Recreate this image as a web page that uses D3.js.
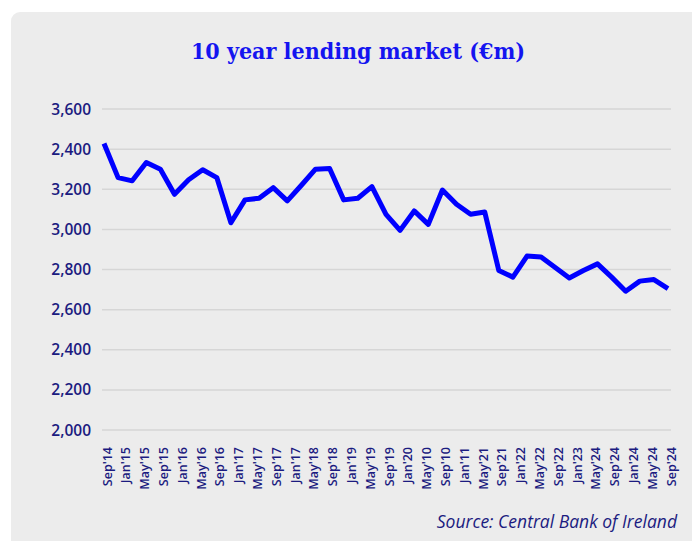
<!DOCTYPE html>
<html>
<head>
<meta charset="utf-8">
<script src="https://cdn.jsdelivr.net/npm/d3@7"></script>
<style>
  body { margin: 0; background: #fff; }
  svg { display: block; }
</style>
</head>
<body>
<div id="chart"></div>
<script>
// quarterly lending values, Sep'14 .. Sep'24
const values = [
  3428, 3258, 3242, 3333, 3300, 3175, 3247, 3297, 3258, 3033,
  3147, 3155, 3208, 3142, 3220, 3300, 3303, 3147, 3155, 3213,
  3075, 2995, 3092, 3025, 3196, 3125, 3075, 3087, 2795, 2762,
  2867, 2862, 2810, 2758, 2795, 2828, 2762, 2692, 2742, 2750,
  2705
];

// category labels as printed on the chart
const xLabels = [
  "Sep'14", "Jan'15", "May'15", "Sep'15", "Jan'16", "May'16", "Sep'16",
  "Jan'17", "May'17", "Sep'17", "Jan'17", "May'18", "Sep'18", "Jan'19",
  "May'19", "Sep'19", "Jan'20", "May'10", "Sep'10", "Jan'11", "May'21",
  "Sep'21", "Jan'22", "May'22", "Sep'22", "Jan'23", "May'24", "Sep'24",
  "Jan'24", "May'24", "Sep'24"
];

const yTicks = [2000, 2200, 2400, 2600, 2800, 3000, 3200, 3400, 3600];
const yTickText = ["2,000", "2,200", "2,400", "2,600", "2,800", "3,000", "3,200", "2,400", "3,600"];

const width = 692, height = 541;
const navy = "#1b1b80";

const svg = d3.select("#chart")
  .append("svg")
  .attr("width", width)
  .attr("height", height);

// grey panel
svg.append("rect")
  .attr("x", 11)
  .attr("y", 12)
  .attr("width", 720)
  .attr("height", 560)
  .attr("rx", 9)
  .attr("fill", "#ececec");

// title
svg.append("text")
  .attr("x", 358)
  .attr("y", 59)
  .attr("text-anchor", "middle")
  .attr("font-family", "DejaVu Serif Condensed, DejaVu Serif")
  .attr("font-stretch", "condensed")
  .attr("font-weight", "bold")
  .attr("font-size", 23)
  .attr("fill", "#1414f0")
  .text("10 year lending market (€m)");

// scales
const x = d3.scaleLinear()
  .domain([0, values.length - 1])
  .range([104, 668]);

const y = d3.scaleLinear()
  .domain([2000, 3600])
  .range([430, 109]);

// gridlines
svg.append("g")
  .selectAll("line")
  .data(yTicks)
  .join("line")
  .attr("x1", 102)
  .attr("x2", 671)
  .attr("y1", d => y(d))
  .attr("y2", d => y(d))
  .attr("stroke", "#d6d6d6")
  .attr("stroke-width", 1.5);

// y labels
svg.append("g")
  .selectAll("text")
  .data(yTicks)
  .join("text")
  .attr("x", 91)
  .attr("y", d => y(d))
  .attr("dy", "0.36em")
  .attr("text-anchor", "end")
  .attr("font-family", "Open Sans")
  .attr("font-weight", 600)
  .attr("font-size", 15.5)
  .attr("fill", navy)
  .text((d, i) => yTickText[i]);

// x labels, spread across the same span as the data
const xl = d3.scalePoint()
  .domain(d3.range(xLabels.length))
  .range([x(0), x(values.length - 1)]);

svg.append("g")
  .selectAll("text")
  .data(xLabels)
  .join("text")
  .attr("transform", (d, i) => `translate(${xl(i) + 3},447)rotate(-90)`)
  .attr("dy", "0.36em")
  .attr("text-anchor", "end")
  .attr("font-family", "Open Sans")
  .attr("font-weight", 600)
  .attr("font-size", 12.5)
  .attr("fill", navy)
  .text(d => d);

// line
const line = d3.line()
  .x((d, i) => x(i))
  .y(d => y(d));

svg.append("path")
  .datum(values)
  .attr("fill", "none")
  .attr("stroke", "#0000ff")
  .attr("stroke-width", 5)
  .attr("stroke-linejoin", "round")
  .attr("d", line);

// source
svg.append("text")
  .attr("x", 677)
  .attr("y", 528)
  .attr("text-anchor", "end")
  .attr("font-family", "Open Sans")
  .attr("font-style", "italic")
  .attr("font-size", 17.5)
  .attr("fill", navy)
  .text("Source: Central Bank of Ireland");
</script>
</body>
</html>
